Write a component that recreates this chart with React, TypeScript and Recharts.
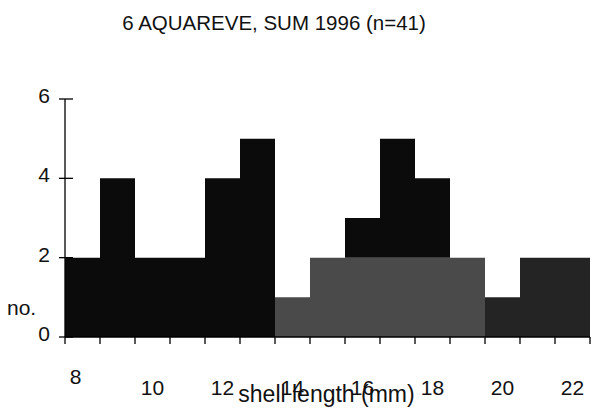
import React from 'react';
import { BarChart, Bar, XAxis, YAxis } from 'recharts';

const bins = [8, 9, 10, 11, 12, 13, 14, 15, 16, 17, 18, 19, 20, 21, 22];
const stippled = [0, 0, 0, 0, 0, 0, 1, 2, 2, 2, 2, 2, 0, 0, 0];
const darkStipple = [0, 0, 0, 0, 0, 0, 0, 0, 0, 0, 0, 0, 1, 2, 2];
const solid = [2, 4, 2, 2, 4, 5, 0, 0, 1, 3, 2, 0, 0, 0, 0];
const yTicks = [0, 2, 4, 6];
const xTickLabels = [8, 10, 12, 14, 16, 18, 20, 22];
const title = '6 AQUAREVE, SUM 1996 (n=41)';
const xTitle = 'shell length (mm)';
const yTitle = 'no.';

const data = bins.map((b, i) => ({
  bin: b,
  stippled: stippled[i],
  darkStipple: darkStipple[i],
  solid: solid[i],
}));

const FONT = '"Liberation Sans", Arial, Helvetica, sans-serif';

const YTick = (props: any) => {
  const { x, y, payload } = props;
  return (
    <g>
      <line x1={x - 6} x2={x + 8} y1={y} y2={y} stroke="#000" strokeWidth={1.3} />
      <text x={x - 15} y={y + 4} textAnchor="end" fontSize={21} fontFamily={FONT} fill="#111">
        {payload.value}
      </text>
    </g>
  );
};

const XTick = (props: any) => {
  const { x, y, payload, index } = props;
  const half = payload && payload.offset ? payload.offset : 17.5;
  const isLast = index === bins.length - 1;
  const showLabel = xTickLabels.includes(payload.value);
  const first = index === 0;
  return (
    <g>
      <line x1={x - half} x2={x - half} y1={y} y2={y + 7} stroke="#000" strokeWidth={1.3} />
      {isLast && <line x1={x + half} x2={x + half} y1={y} y2={y + 7} stroke="#000" strokeWidth={1.3} />}
      {showLabel && (
        <text
          x={x + (first ? -7 : 0)}
          y={y + (first ? 47 : 58)}
          textAnchor="middle"
          fontSize={21}
          fontFamily={FONT}
          fill="#111"
        >
          {payload.value}
        </text>
      )}
    </g>
  );
};

export default function App() {
  return (
    <div style={{ position: 'absolute', left: 0, top: 0, width: 592, height: 413, background: '#fff' }}>
      <div
        style={{
          position: 'absolute',
          left: 0,
          top: 13,
          width: 548,
          textAlign: 'center',
          fontFamily: FONT,
          fontSize: 20.5,
          lineHeight: '20px',
          color: '#111',
        }}
      >
        {title}
      </div>
      <BarChart
        width={592}
        height={413}
        data={data}
        margin={{ top: 99, right: 2, bottom: 6, left: 0 }}
        barCategoryGap={0}
        barGap={0}
      >
        <XAxis
          dataKey="bin"
          interval={0}
          tickLine={false}
          tickSize={0}
          tickMargin={0}
          height={70}
          stroke="#000"
          strokeWidth={1.3}
          tick={<XTick />}
          label={{
            content: (p: any) => {
              const vb = p.viewBox || { x: 65, y: 337, width: 525, height: 70 };
              return (
                <text
                  x={vb.x + vb.width / 2 - 1}
                  y={vb.y + 65}
                  textAnchor="middle"
                  fontSize={23}
                  fontFamily={FONT}
                  fill="#111"
                >
                  {xTitle}
                </text>
              );
            },
          }}
        />
        <YAxis
          domain={[0, 6]}
          ticks={yTicks}
          width={65}
          tickSize={0}
          tickMargin={0}
          tickLine={false}
          interval={0}
          stroke="#000"
          strokeWidth={1.3}
          tick={<YTick />}
          label={{
            content: (p: any) => {
              const vb = p.viewBox || { x: 0, y: 99, width: 65, height: 238 };
              return (
                <text x={vb.x + 7} y={vb.y + vb.height - 22} fontSize={21} fontFamily={FONT} fill="#111">
                  {yTitle}
                </text>
              );
            },
          }}
        />
        <Bar dataKey="stippled" stackId="a" fill="#4a4a4a" isAnimationActive={false} />
        <Bar dataKey="darkStipple" stackId="a" fill="#242424" isAnimationActive={false} />
        <Bar dataKey="solid" stackId="a" fill="#0b0b0b" isAnimationActive={false} />
      </BarChart>
    </div>
  );
}
